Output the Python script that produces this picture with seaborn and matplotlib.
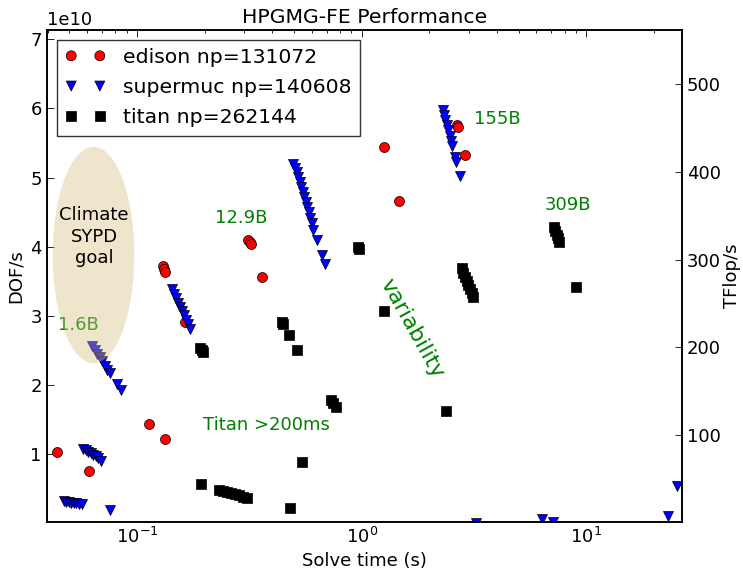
import numpy as np
import pandas as pd
import matplotlib
matplotlib.use("Agg")
import matplotlib.pyplot as plt
import seaborn as sns
from matplotlib.patches import Ellipse

# ---------------- data (DOF/s in units of 1e10) ----------------
edison_time = [0.0441, 0.0611, 0.1131, 0.1328, 0.1305, 0.1318, 0.1332, 0.164,
               0.3129, 0.3168, 0.320, 0.361, 1.261, 1.470, 2.665, 2.69, 2.883]
edison_dof = [1.03, 0.755, 1.434, 1.213, 3.714, 3.675, 3.632, 2.904,
              4.090, 4.065, 4.032, 3.564, 5.443, 4.658, 5.764, 5.735, 5.327]

supermuc_time = [0.0471, 0.0483, 0.0496, 0.0508, 0.0522, 0.0535, 0.0552, 0.0569,
                 0.0756,
                 0.0575, 0.0590, 0.0605, 0.0621, 0.0637, 0.0654, 0.0671, 0.0692,
                 0.0631, 0.0647, 0.0664, 0.0681, 0.0699, 0.0717, 0.0735, 0.0754, 0.0815, 0.0849,
                 0.1432, 0.1462, 0.1491, 0.1522, 0.1554, 0.1586, 0.1619, 0.1652, 0.1687, 0.1721,
                 0.4970, 0.5050, 0.5127, 0.5207, 0.5288, 0.5370, 0.5452, 0.5537, 0.5623,
                 0.5710, 0.5797, 0.5888, 0.5979, 0.6090, 0.6344, 0.6658, 0.6887,
                 2.293, 2.324, 2.360, 2.397, 2.434, 2.472, 2.510, 2.536, 2.602, 2.629, 2.739,
                 3.22, 6.32, 7.08, 23.2, 25.4]
supermuc_dof = [0.314, 0.306, 0.299, 0.292, 0.292, 0.285, 0.278, 0.270,
                0.191,
                1.073, 1.051, 1.029, 1.008, 0.986, 0.964, 0.935, 0.899,
                2.569, 2.511, 2.453, 2.396, 2.338, 2.280, 2.222, 2.171, 2.012, 1.925,
                3.386, 3.321, 3.256, 3.191, 3.126, 3.068, 3.010, 2.945, 2.880, 2.815,
                5.200, 5.142, 5.077, 5.005, 4.933, 4.860, 4.788, 4.716, 4.644,
                4.571, 4.499, 4.420, 4.340, 4.246, 4.094, 3.877, 3.747,
                5.974, 5.901, 5.829, 5.757, 5.685, 5.605, 5.526, 5.461, 5.301, 5.229, 5.020,
                0.005, 0.06, 0.015, 0.104, 0.53]

titan_time = [0.1926,
              0.2317, 0.2414, 0.2515, 0.2620, 0.2729, 0.2843, 0.2962, 0.3087,
              0.4797, 0.5408,
              0.1907, 0.1937, 0.1961,
              0.4405, 0.4465, 0.4733, 0.5154,
              0.7278, 0.7454, 0.7663,
              0.9678, 0.9777, 1.2567, 2.372,
              2.786, 2.833, 2.883, 2.930, 2.982, 3.034, 3.084, 3.138,
              7.195, 7.285, 7.383, 7.474, 7.575,
              8.99]
titan_dof = [0.562,
             0.476, 0.461, 0.444, 0.429, 0.415, 0.400, 0.382, 0.364,
             0.224, 0.889,
             2.529, 2.504, 2.479,
             2.909, 2.887, 2.721, 2.500,
             1.781, 1.738, 1.676,
             3.993, 3.964, 3.068, 1.619,
             3.685, 3.624, 3.565, 3.506, 3.445, 3.386, 3.325, 3.266,
             4.278, 4.224, 4.174, 4.123, 4.070,
             3.419]

labels = ["edison np=131072", "supermuc np=140608", "titan np=262144"]
colors = ["#ff0000", "#0000ff", "#000000"]
markers = ["o", "v", "s"]

df = pd.concat([
    pd.DataFrame({"time": edison_time, "dof": np.array(edison_dof) * 1e10, "machine": labels[0]}),
    pd.DataFrame({"time": supermuc_time, "dof": np.array(supermuc_dof) * 1e10, "machine": labels[1]}),
    pd.DataFrame({"time": titan_time, "dof": np.array(titan_dof) * 1e10, "machine": labels[2]}),
], ignore_index=True)

# ---------------- style ----------------
sns.set_theme(style="white")
plt.rcParams["font.family"] = ["DejaVu Sans"]
plt.rcParams.update({
    "axes.edgecolor": "black",
    "axes.linewidth": 1.2,
    "xtick.color": "black",
    "ytick.color": "black",
    "text.color": "black",
    "axes.labelcolor": "black",
})

fig = plt.figure(figsize=(7.43, 5.69), dpi=100)
ax = fig.add_axes([0.0629, 0.0831, 0.9175 - 0.0629, 0.948 - 0.0831])

for lab, col, mk in zip(labels, colors, markers):
    sub = df[df["machine"] == lab]
    sns.scatterplot(data=sub, x="time", y="dof", color=col, marker=mk, s=52,
                    edgecolor="black", linewidth=0.5, label=lab, ax=ax, zorder=1)

ax.set_xscale("log")
ax.set_xlim(0.0396, 26.6)
ax.set_ylim(0.02e10, 7.14e10)
ax.set_yticks([1e10, 2e10, 3e10, 4e10, 5e10, 6e10, 7e10])

ax.set_xlabel("Solve time (s)", fontsize=13)
ax.set_ylabel("DOF/s", fontsize=13)
ax.set_title("HPGMG-FE Performance", fontsize=14.7, pad=4.5)
ax.tick_params(axis="both", which="both", direction="in", labelsize=13,
               width=0.6, top=True, right=False)
ax.tick_params(axis="both", which="major", length=5)
ax.tick_params(axis="both", which="minor", length=2.5)
ax.yaxis.get_offset_text().set_fontsize(13)

# Ellipse (climate goal) in axes coordinates
ell = Ellipse((0.0737, 0.5419), 0.1285, 0.440, transform=ax.transAxes,
              facecolor=(215/255, 192/255, 128/255), alpha=0.4,
              edgecolor="none", zorder=2.5)
ax.add_patch(ell)

green = "#008000"
ax.text(0.0548, 2.865e10, "1.6B", color=green, fontsize=13, ha="center", va="center", zorder=2)
ax.text(0.0644, 4.145e10, "Climate\nSYPD\ngoal", color="black", fontsize=13,
        ha="center", va="center", linespacing=1.25, zorder=4)
ax.text(0.292, 4.41e10, "12.9B", color=green, fontsize=13, ha="center", va="center")
ax.text(4.01, 5.84e10, "155B", color=green, fontsize=13, ha="center", va="center")
ax.text(8.31, 4.60e10, "309B", color=green, fontsize=13, ha="center", va="center")
ax.text(0.375, 1.42e10, "Titan >200ms", color=green, fontsize=13, ha="center", va="center")
ax.text(1.675, 2.822e10, "variability", color=green, fontsize=16, ha="center", va="center",
        rotation=-61, rotation_mode="anchor")

leg = ax.legend(loc="upper left", scatterpoints=2, scatteryoffsets=[0.5], fontsize=14.7,
                frameon=True, fancybox=False, shadow=False, borderpad=0.4,
                labelspacing=0.55, handlelength=2.0, handletextpad=0.85,
                borderaxespad=0.5)
leg.get_frame().set_edgecolor("black")
leg.get_frame().set_linewidth(1.0)

ax2 = ax.twinx()
ax2.set_ylim(1.5, 562)
ax2.set_yticks([100, 200, 300, 400, 500])
ax2.set_ylabel("TFlop/s", fontsize=13, labelpad=2)
ax2.tick_params(axis="y", direction="in", labelsize=13, width=0.6, length=5)
ax2.grid(False)
ax.grid(False)

fig.savefig("out.png", dpi=100)
